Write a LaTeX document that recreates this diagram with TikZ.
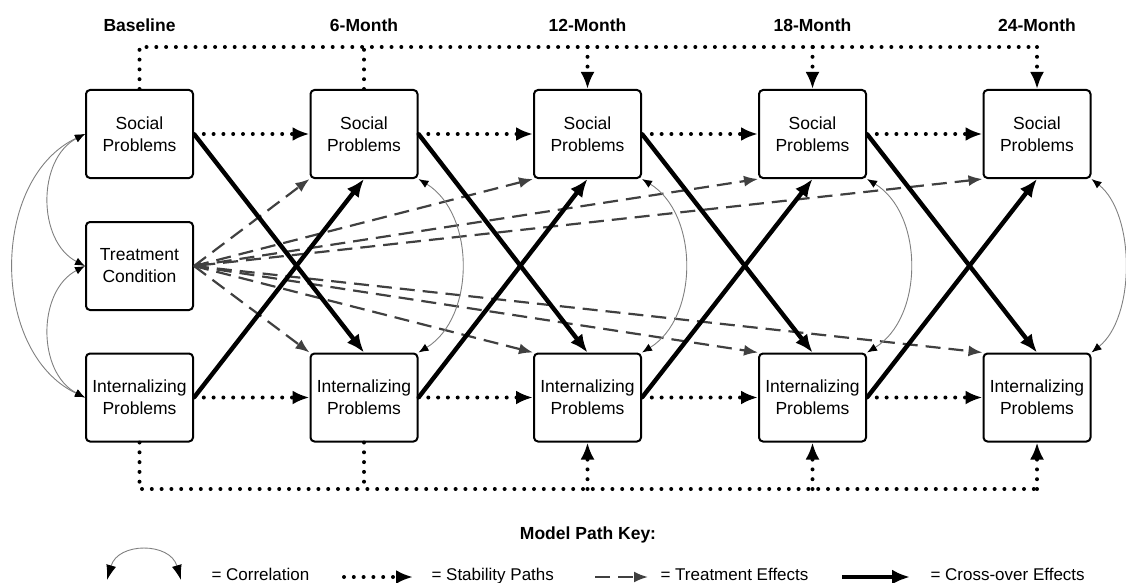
\documentclass[tikz,border=0pt]{standalone}
\usepackage{fontspec}
\setmainfont{Liberation Sans}
\usetikzlibrary{arrows.meta,positioning}

\begin{document}
\begin{tikzpicture}[x=1pt,y=-1pt,
	box/.style={draw,line width=2pt,rounded corners=4pt,minimum width=107pt,minimum height=88pt,inner sep=0pt,align=center,font=\fontsize{17.5}{22}\selectfont},
	head/.style={anchor=base,font=\fontsize{17.5}{20}\selectfont\bfseries},
	keytext/.style={anchor=base west,font=\fontsize{17}{20}\selectfont},
	stab/.style={line width=4pt,line cap=round,dash pattern=on 0pt off 9.8pt},
	stabtip/.style={-{Latex[length=17pt,width=14pt]}},
	teff/.style={draw=black!75,line width=2.2pt,dash pattern=on 15pt off 8pt,-{Latex[length=14pt,width=11pt]}},
	cross/.style={line width=4.4pt,-{Latex[length=18pt,width=15pt]}},
	corr/.style={draw=black!50,line width=0.9pt,{Latex[length=10pt,width=8pt,black]}-{Latex[length=10pt,width=8pt,black]}}]

		\useasboundingbox (0,0) rectangle (1126,583);

		% headings
		\draw (139.5,32) node[head] (hbase) {Baseline};
		\draw (364,32) node[head] (h6) {6-Month};
		\draw (587.5,32) node[head] (h12) {12-Month};
		\draw (812.5,32) node[head] (h18) {18-Month};
		\draw (1037,32) node[head] (h24) {24-Month};

		% Baseline
		\draw (139.5,134) node[box] (soc0) {Social\\Problems};
		\draw (139.5,266) node[box] (cond) {Treatment\\Condition};
		\draw (139.5,397.5) node[box] (int0) {Internalizing\\Problems};

		% 6-Month
		\draw (364,134) node[box] (soc6) {Social\\Problems};
		\draw (364,397.5) node[box] (int6) {Internalizing\\Problems};

		% 12-Month
		\draw (587.5,134) node[box] (soc12) {Social\\Problems};
		\draw (587.5,397.5) node[box] (int12) {Internalizing\\Problems};

		% 18-Month
		\draw (812.5,134) node[box] (soc18) {Social\\Problems};
		\draw (812.5,397.5) node[box] (int18) {Internalizing\\Problems};

		% 24-Month
		\draw (1037,134) node[box] (soc24) {Social\\Problems};
		\draw (1037,397.5) node[box] (int24) {Internalizing\\Problems};

		%---------------------
		% treatment effects
		%---------------------
		\draw[teff] (cond.east) -- (soc6.south west);
		\draw[teff] (cond.east) -- (soc12.south west);
		\draw[teff] (cond.east) -- (soc18.south west);
		\draw[teff,{Latex[length=7pt,width=7pt]}-{Latex[length=14pt,width=11pt]}] (cond.east) -- (soc24.south west);
		\draw[teff] (cond.east) -- (int6.north west);
		\draw[teff] (cond.east) -- (int12.north west);
		\draw[teff] (cond.east) -- (int18.north west);
		\draw[teff] (cond.east) -- (int24.north west);

		%---------------------
		% correlations
		%---------------------
		\draw[corr] (soc0.west) .. controls +(-48,25) and +(-48,-25) .. (cond.west);
		\draw[corr] (cond.west) .. controls +(-48,25) and +(-48,-25) .. (int0.west);
		\draw[corr] (soc0.west) .. controls +(-95,45) and +(-95,-45) .. (int0.west);
		\draw[corr] (soc6.south east) .. controls +(57,35) and +(57,-35) .. (int6.north east);
		\draw[corr] (soc12.south east) .. controls +(57,35) and +(57,-35) .. (int12.north east);
		\draw[corr] (soc18.south east) .. controls +(57,35) and +(57,-35) .. (int18.north east);
		\draw[corr] (soc24.south east) .. controls +(44,35) and +(44,-35) .. (int24.north east);

		%---------------------
		% stability paths
		%---------------------
		\draw[stab,stabtip] (soc0.east) -- (soc6.west);
		\draw[stab,stabtip] (soc6.east) -- (soc12.west);
		\draw[stab,stabtip] (soc12.east) -- (soc18.west);
		\draw[stab,stabtip] (soc18.east) -- (soc24.west);
		\draw[stab,stabtip] (int0.east) -- (int6.west);
		\draw[stab,stabtip] (int6.east) -- (int12.west);
		\draw[stab,stabtip] (int12.east) -- (int18.west);
		\draw[stab,stabtip] (int18.east) -- (int24.west);

		% top line
		\coordinate (topline) at (0,47);
		\draw[stab] (soc0.north) -- (soc0.north |- topline) -- (soc24.north |- topline);
		\draw[stab] (soc6.north) -- (soc6.north |- topline);
		\draw[stab,stabtip] (soc12.north |- topline) -- (soc12.north);
		\draw[stab,stabtip] (soc18.north |- topline) -- (soc18.north);
		\draw[stab,stabtip] (soc24.north |- topline) -- (soc24.north);

		% bottom line
		\coordinate (botline) at (0,489);
		\draw[stab] (int0.south) -- (int0.south |- botline) -- (int24.south |- botline);
		\draw[stab] (int6.south) -- (int6.south |- botline);
		\draw[stab,stabtip] (int12.south |- botline) -- (int12.south);
		\draw[stab,stabtip] (int18.south |- botline) -- (int18.south);
		\draw[stab,stabtip] (int24.south |- botline) -- (int24.south);

		%---------------------
		% cross-over effects
		%---------------------
		\draw[cross] (soc0.east) -- (int6.north);
		\draw[cross] (int0.east) -- (soc6.south);
		\draw[cross] (soc6.east) -- (int12.north);
		\draw[cross] (int6.east) -- (soc12.south);
		\draw[cross] (soc12.east) -- (int18.north);
		\draw[cross] (int12.east) -- (soc18.south);
		\draw[cross] (soc18.east) -- (int24.north);
		\draw[cross] (int18.east) -- (soc24.south);

		%---------------------
		% key
		%---------------------
		\draw (588,539) node[head] (keyhead) {Model Path Key:};

		\coordinate (kc1) at (107,580);
		\coordinate (kc2) at (181,580);
		\draw[corr,{Latex[length=15pt,width=10pt,black]}-{Latex[length=15pt,width=10pt,black]}] (kc1) .. controls (118,542) and (170,542) .. (kc2);
		\draw (208,580) node[keytext] (kcorr) {= Correlation};

		\coordinate (ks1) at (344,577);
		\coordinate (ks2) at (413,577);
		\draw[stab,stabtip] (ks1) -- (ks2);
		\draw (428,580) node[keytext] (kstab) {= Stability Paths};

		\coordinate (kt1) at (595,577);
		\coordinate (kt2) at (648,577);
		\draw[teff] (kt1) -- (kt2);
		\draw (657,580) node[keytext] (kteff) {= Treatment Effects};

		\coordinate (kx1) at (842,577);
		\coordinate (kx2) at (910,577);
		\draw[cross] (kx1) -- (kx2);
		\draw (927,580) node[keytext] (kcross) {= Cross-over Effects};

\end{tikzpicture}
\end{document}
